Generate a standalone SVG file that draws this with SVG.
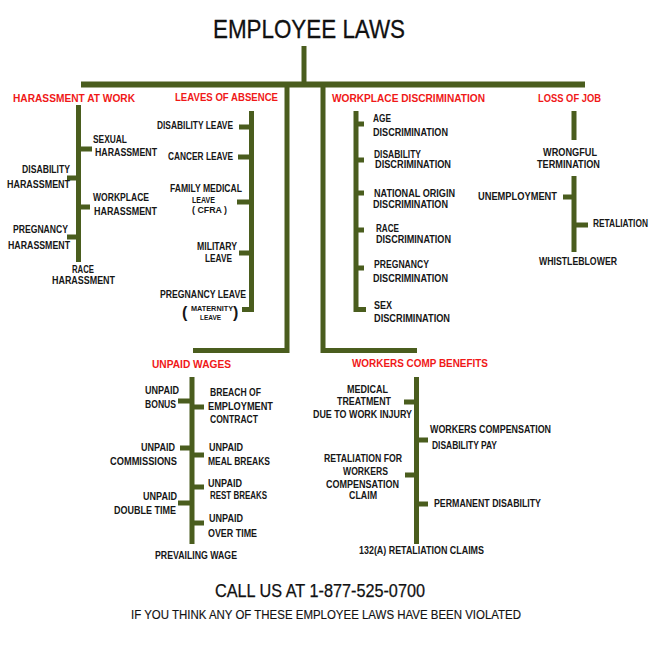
<svg xmlns="http://www.w3.org/2000/svg" width="660" height="650" viewBox="0 0 660 650">
<style>
text{font-family:"Liberation Sans",Arial,sans-serif;}
.t{font-size:10.3px;font-weight:bold;fill:#161616;}
.s{font-size:9px;font-weight:bold;fill:#161616;}
.xs{font-size:7.5px;font-weight:bold;fill:#161616;}
.h{font-size:11px;fill:#f01818;font-weight:bold;}
.title{font-size:26px;fill:#111;stroke:#111;stroke-width:0.3;}
.call{font-size:17.5px;fill:#111;stroke:#111;stroke-width:0.25;}
.sub{font-size:12.5px;fill:#111;stroke:#111;stroke-width:0.15;}
.c{fill:none;stroke:#4a5d1e;stroke-width:5;stroke-linecap:butt;stroke-linejoin:miter;}
</style>
<rect width="660" height="650" fill="#fff"/>
<g id="connectors">
<path class="c" d="M304,46V84"/>
<path class="c" style="stroke-width:6" d="M81,84.5H585"/>
<path class="c" d="M287,84V350.5H193"/>
<path class="c" d="M323,84V350.5H417"/>
<path class="c" d="M78.5,105V262M81,149H92M76,178H67M81,207H90M76,237H67"/>
<path class="c" d="M251.5,111V312M249,127H239M249,157H238M249,202H237M249,253H239M251.5,309.5H242"/>
<path class="c" d="M356,111V312M358.5,124H364M358.5,160H364M358.5,193H364M358.5,230H364M358.5,268H364M356,309.5H366"/>
<path class="c" d="M574,111V140M574,176V252M571.5,197H563M576.5,225H588"/>
<path class="c" d="M192,377V544M189.5,401H178M194.5,407H204M189.5,448H180M194.5,455H204M194.5,487H204M189.5,503H178M194.5,523H204"/>
<path class="c" d="M416.5,377V544M414,402H404M419,440H428M414,475H405M419,504H428"/>
</g>
<g id="title"><text class="title" x="213" y="38" textLength="192" lengthAdjust="spacingAndGlyphs">EMPLOYEE LAWS</text></g>
<g id="harassment">
<text class="h" x="13" y="102" textLength="122" lengthAdjust="spacingAndGlyphs">HARASSMENT AT WORK</text>
<text class="t" x="93" y="143" textLength="34" lengthAdjust="spacingAndGlyphs">SEXUAL</text>
<text class="t" x="95" y="156" textLength="62" lengthAdjust="spacingAndGlyphs">HARASSMENT</text>
<text class="t" x="22" y="173" textLength="48" lengthAdjust="spacingAndGlyphs">DISABILITY</text>
<text class="t" x="7" y="188" textLength="63" lengthAdjust="spacingAndGlyphs">HARASSMENT</text>
<text class="t" x="93" y="201" textLength="56" lengthAdjust="spacingAndGlyphs">WORKPLACE</text>
<text class="t" x="94" y="215" textLength="63" lengthAdjust="spacingAndGlyphs">HARASSMENT</text>
<text class="t" x="13" y="233" textLength="55" lengthAdjust="spacingAndGlyphs">PREGNANCY</text>
<text class="t" x="8" y="249" textLength="62" lengthAdjust="spacingAndGlyphs">HARASSMENT</text>
<text class="t" x="72" y="273" textLength="22" lengthAdjust="spacingAndGlyphs">RACE</text>
<text class="t" x="52" y="284" textLength="63" lengthAdjust="spacingAndGlyphs">HARASSMENT</text>
</g>
<g id="leaves">
<text class="h" x="175" y="101" textLength="103" lengthAdjust="spacingAndGlyphs">LEAVES OF ABSENCE</text>
<text class="t" x="157" y="129" textLength="76" lengthAdjust="spacingAndGlyphs">DISABILITY LEAVE</text>
<text class="t" x="168" y="160" textLength="65" lengthAdjust="spacingAndGlyphs">CANCER LEAVE</text>
<text class="t" x="170" y="192" textLength="72" lengthAdjust="spacingAndGlyphs">FAMILY MEDICAL</text>
<text class="s" x="192" y="203" textLength="23" lengthAdjust="spacingAndGlyphs">LEAVE</text>
<text class="s" x="192" y="213" textLength="35" lengthAdjust="spacingAndGlyphs">( CFRA )</text>
<text class="t" x="197" y="250" textLength="40" lengthAdjust="spacingAndGlyphs">MILITARY</text>
<text class="t" x="205" y="262" textLength="27" lengthAdjust="spacingAndGlyphs">LEAVE</text>
<text class="t" x="160" y="298" textLength="86" lengthAdjust="spacingAndGlyphs">PREGNANCY LEAVE</text>
<text class="t" style="font-size:16px" x="182" y="318">(</text>
<text class="t" style="font-size:16px" x="233" y="318">)</text>
<text class="xs" x="191" y="311" textLength="42" lengthAdjust="spacingAndGlyphs">MATERNITY</text>
<text class="xs" x="200" y="320" textLength="21" lengthAdjust="spacingAndGlyphs">LEAVE</text>
</g>
<g id="discrimination">
<text class="h" x="332" y="102" textLength="153" lengthAdjust="spacingAndGlyphs">WORKPLACE DISCRIMINATION</text>
<text class="t" x="373" y="122" textLength="18" lengthAdjust="spacingAndGlyphs">AGE</text>
<text class="t" x="373" y="136" textLength="75" lengthAdjust="spacingAndGlyphs">DISCRIMINATION</text>
<text class="t" x="374" y="158" textLength="47" lengthAdjust="spacingAndGlyphs">DISABILITY</text>
<text class="t" x="375" y="168" textLength="76" lengthAdjust="spacingAndGlyphs">DISCRIMINATION</text>
<text class="t" x="374" y="197" textLength="81" lengthAdjust="spacingAndGlyphs">NATIONAL ORIGIN</text>
<text class="t" x="373" y="208" textLength="75" lengthAdjust="spacingAndGlyphs">DISCRIMINATION</text>
<text class="t" x="376" y="232" textLength="23" lengthAdjust="spacingAndGlyphs">RACE</text>
<text class="t" x="376" y="243" textLength="75" lengthAdjust="spacingAndGlyphs">DISCRIMINATION</text>
<text class="t" x="374" y="268" textLength="55" lengthAdjust="spacingAndGlyphs">PREGNANCY</text>
<text class="t" x="373" y="282" textLength="75" lengthAdjust="spacingAndGlyphs">DISCRIMINATION</text>
<text class="t" x="374" y="309" textLength="18" lengthAdjust="spacingAndGlyphs">SEX</text>
<text class="t" x="374" y="322" textLength="76" lengthAdjust="spacingAndGlyphs">DISCRIMINATION</text>
</g>
<g id="loss-of-job">
<text class="h" x="538" y="102" textLength="63" lengthAdjust="spacingAndGlyphs">LOSS OF JOB</text>
<text class="t" x="543" y="156" textLength="54" lengthAdjust="spacingAndGlyphs">WRONGFUL</text>
<text class="t" x="537" y="168" textLength="63" lengthAdjust="spacingAndGlyphs">TERMINATION</text>
<text class="t" x="478" y="200" textLength="79" lengthAdjust="spacingAndGlyphs">UNEMPLOYMENT</text>
<text class="t" x="593" y="227" textLength="55" lengthAdjust="spacingAndGlyphs">RETALIATION</text>
<text class="t" x="539" y="265" textLength="78" lengthAdjust="spacingAndGlyphs">WHISTLEBLOWER</text>
</g>
<g id="unpaid-wages">
<text class="h" x="152" y="368" textLength="79" lengthAdjust="spacingAndGlyphs">UNPAID WAGES</text>
<text class="t" x="145" y="394" textLength="34" lengthAdjust="spacingAndGlyphs">UNPAID</text>
<text class="t" x="145" y="408" textLength="31" lengthAdjust="spacingAndGlyphs">BONUS</text>
<text class="t" x="210" y="396" textLength="51" lengthAdjust="spacingAndGlyphs">BREACH OF</text>
<text class="t" x="208" y="410" textLength="65" lengthAdjust="spacingAndGlyphs">EMPLOYMENT</text>
<text class="t" x="210" y="423" textLength="48" lengthAdjust="spacingAndGlyphs">CONTRACT</text>
<text class="t" x="141" y="451" textLength="34" lengthAdjust="spacingAndGlyphs">UNPAID</text>
<text class="t" x="110" y="465" textLength="67" lengthAdjust="spacingAndGlyphs">COMMISSIONS</text>
<text class="t" x="209" y="451" textLength="34" lengthAdjust="spacingAndGlyphs">UNPAID</text>
<text class="t" x="208" y="465" textLength="62" lengthAdjust="spacingAndGlyphs">MEAL BREAKS</text>
<text class="t" x="208" y="487" textLength="34" lengthAdjust="spacingAndGlyphs">UNPAID</text>
<text class="t" x="210" y="499" textLength="57" lengthAdjust="spacingAndGlyphs">REST BREAKS</text>
<text class="t" x="143" y="500" textLength="34" lengthAdjust="spacingAndGlyphs">UNPAID</text>
<text class="t" x="114" y="514" textLength="62" lengthAdjust="spacingAndGlyphs">DOUBLE TIME</text>
<text class="t" x="209" y="522" textLength="34" lengthAdjust="spacingAndGlyphs">UNPAID</text>
<text class="t" x="208" y="537" textLength="49" lengthAdjust="spacingAndGlyphs">OVER TIME</text>
<text class="t" x="155" y="559" textLength="82" lengthAdjust="spacingAndGlyphs">PREVAILING WAGE</text>
</g>
<g id="workers-comp">
<text class="h" x="352" y="367" textLength="136" lengthAdjust="spacingAndGlyphs">WORKERS COMP BENEFITS</text>
<text class="t" x="347" y="393" textLength="41" lengthAdjust="spacingAndGlyphs">MEDICAL</text>
<text class="t" x="337" y="405" textLength="54" lengthAdjust="spacingAndGlyphs">TREATMENT</text>
<text class="t" x="313" y="418" textLength="99" lengthAdjust="spacingAndGlyphs">DUE TO WORK INJURY</text>
<text class="t" x="430" y="433" textLength="121" lengthAdjust="spacingAndGlyphs">WORKERS COMPENSATION</text>
<text class="t" x="432" y="449" textLength="65" lengthAdjust="spacingAndGlyphs">DISABILITY PAY</text>
<text class="t" x="324" y="462" textLength="78" lengthAdjust="spacingAndGlyphs">RETALIATION FOR</text>
<text class="t" x="343" y="475" textLength="45" lengthAdjust="spacingAndGlyphs">WORKERS</text>
<text class="t" x="326" y="488" textLength="73" lengthAdjust="spacingAndGlyphs">COMPENSATION</text>
<text class="t" x="349" y="499" textLength="28" lengthAdjust="spacingAndGlyphs">CLAIM</text>
<text class="t" x="434" y="507" textLength="107" lengthAdjust="spacingAndGlyphs">PERMANENT DISABILITY</text>
<text class="t" x="359" y="554" textLength="125" lengthAdjust="spacingAndGlyphs">132(A) RETALIATION CLAIMS</text>
</g>
<g id="footer">
<text class="call" x="215" y="597" textLength="210" lengthAdjust="spacingAndGlyphs">CALL US AT 1-877-525-0700</text>
<text class="sub" x="131" y="619" textLength="390" lengthAdjust="spacingAndGlyphs">IF YOU THINK ANY OF THESE EMPLOYEE LAWS HAVE BEEN VIOLATED</text>
</g>
</svg>
